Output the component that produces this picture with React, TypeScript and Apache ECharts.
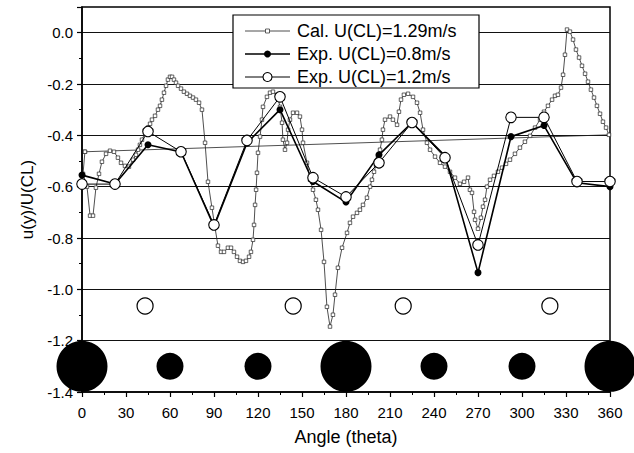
import React, { useEffect, useRef } from 'react';
import * as echarts from 'echarts';

const FONT = '"Liberation Sans", Arial, sans-serif';

// Calculated profile, U(CL)=1.29 m/s  [angle, u/U]
const calPoints: number[][] = [
  [2.0,-0.464],[0.7,-0.550],[3.4,-0.600],[5.5,-0.713],[7.5,-0.713],[9.5,-0.604],[11.6,-0.550],[13.6,-0.503],[16.4,-0.472],[19.1,-0.460],[21.8,-0.464],[24.5,-0.487],[26.6,-0.507],[29.3,-0.519],[32.0,-0.522],
  [34.8,-0.495],[36.8,-0.476],[38.2,-0.456],[39.5,-0.437],[40.9,-0.417],[43.0,-0.390],[45.0,-0.370],[46.4,-0.355],[47.7,-0.339],[49.8,-0.324],[51.8,-0.300],[53.2,-0.285],[54.5,-0.261],[55.9,-0.234],[57.3,-0.207],[58.6,-0.183],[60.0,-0.172],[61.4,-0.172],[62.7,-0.183],
  [64.1,-0.195],[65.5,-0.207],[67.5,-0.218],[69.5,-0.230],[71.6,-0.238],[73.6,-0.246],[75.7,-0.253],[77.7,-0.261],[79.8,-0.273],[81.8,-0.300],
  [83.9,-0.429],[85.9,-0.581],[88.6,-0.682],[90.7,-0.760],[92.7,-0.830],[94.8,-0.854],[96.8,-0.854],[99.5,-0.838],[101.6,-0.838],[103.6,-0.854],[105.7,-0.873],[107.7,-0.889],[109.8,-0.893],[111.8,-0.889],[113.9,-0.873],[115.2,-0.854],[116.6,-0.807],[117.3,-0.749],[118.0,-0.671],[118.7,-0.612],[119.3,-0.546],[120.0,-0.468],[121.4,-0.405],[122.7,-0.339],[123.4,-0.289],[126.1,-0.250],[128.2,-0.234],[130.2,-0.230],[133.0,-0.242],[135.0,-0.289],[136.4,-0.351],[137.0,-0.417],[138.4,-0.456],[139.8,-0.429],[140.5,-0.378],[141.8,-0.339],[143.9,-0.312],[146.6,-0.312],[148.6,-0.327],[150.0,-0.378],[150.7,-0.429],[153.4,-0.507],[155.5,-0.573],[157.5,-0.612],[159.5,-0.651],[160.9,-0.690],[163.0,-0.768],[165.0,-0.893],[167.0,-1.068],[169.1,-1.145],[171.1,-1.099],[172.5,-1.021],[174.5,-0.916],[177.3,-0.838],[180.7,-0.780],[182.7,-0.741],[184.8,-0.717],[187.5,-0.702],[189.5,-0.690],[191.6,-0.671],[194.3,-0.643],[196.4,-0.600],[197.7,-0.573],[199.1,-0.542],[200.5,-0.515],[201.8,-0.483],[203.2,-0.456],[204.5,-0.417],[205.2,-0.378],[206.6,-0.339],[210.0,-0.327],[212.0,-0.339],[214.8,-0.359],[216.1,-0.308],[217.5,-0.261],[219.5,-0.242],[222.3,-0.238],[225.7,-0.250],[228.4,-0.273],[230.5,-0.312],[232.5,-0.378],[235.2,-0.429],[237.3,-0.456],[240.7,-0.483],[244.1,-0.507],[247.5,-0.522],[250.9,-0.542],[254.3,-0.565],[257.7,-0.589],[260.5,-0.581],[263.2,-0.565],[264.5,-0.612],[265.9,-0.624],[267.3,-0.698],[268.0,-0.729],[270.0,-0.764],[272.0,-0.721],[273.4,-0.678],[274.8,-0.651],[276.1,-0.600],[278.2,-0.573],[280.9,-0.558],[283.6,-0.542],[286.4,-0.526],[289.1,-0.511],[291.8,-0.495],[295.2,-0.472],[298.6,-0.448],[302.0,-0.425],[305.5,-0.402],[308.9,-0.370],[312.3,-0.339],[315.0,-0.308],[317.7,-0.285],[320.5,-0.261],[322.5,-0.246],[324.5,-0.242],[326.6,-0.214],[328.0,-0.164],[329.3,-0.086],[330.7,0.012],[332.7,0.004],[334.8,-0.027],[336.8,-0.066],[338.9,-0.097],[340.9,-0.129],[343.0,-0.160],[345.0,-0.191],[347.0,-0.222],[349.1,-0.253],[351.1,-0.285],[353.2,-0.316],[355.2,-0.347],[357.3,-0.370],[359.3,-0.398],
  [2.0,-0.464],
];

// Experimental profiles
const expAngles = [0, 22.5, 45, 67.5, 90, 112.5, 135, 157.5, 180, 202.5, 225, 247.5, 270, 292.5, 315, 337.5, 360];
const exp08Values = [-0.555, -0.59, -0.437, -0.465, -0.755, -0.43, -0.30, -0.58, -0.66, -0.476, -0.35, -0.48, -0.935, -0.405, -0.362, -0.585, -0.60];
const exp12Values = [-0.59, -0.59, -0.385, -0.464, -0.749, -0.42, -0.25, -0.565, -0.64, -0.507, -0.35, -0.487, -0.827, -0.33, -0.33, -0.58, -0.58];

// Cylinder schematic
const bigCylAngles = [0, 180, 360];
const midCylAngles = [60, 120, 240, 300];
const cylRowValue = -1.3;
const openCylAngles = [43, 144, 219, 319];
const openCylValue = -1.065;

const legendLabels = ['Cal. U(CL)=1.29m/s', 'Exp. U(CL)=0.8m/s', 'Exp. U(CL)=1.2m/s'];

export default function App() {
  const ref = useRef<HTMLDivElement>(null);
  useEffect(() => {
    if (!ref.current) return;
    const chart = echarts.init(ref.current, null, { renderer: 'svg' });
    const zip = (xs: number[], ys: number[]) => xs.map((x, i) => [x, ys[i]]);
    const lx0 = 245, lx1 = 290, lxm = 267.5;
    const rows = [31, 54, 77];
    chart.setOption({
      animation: false,
      backgroundColor: '#fff',
      grid: { left: 82, top: 7, width: 528, height: 385, show: true, borderColor: '#000', borderWidth: 1.5, backgroundColor: 'transparent' },
      xAxis: {
        type: 'value', min: 0, max: 360, interval: 30,
        name: 'Angle (theta)', nameLocation: 'middle', nameGap: 36,
        nameTextStyle: { fontSize: 18, color: '#000', fontFamily: FONT },
        axisLine: { show: true, onZero: false, lineStyle: { color: '#000', width: 1.5 } },
        axisTick: { show: true, inside: false, length: 5, lineStyle: { color: '#000', width: 1.2 } },
        minorTick: { show: true, splitNumber: 2, length: 3, lineStyle: { color: '#000', width: 1 } },
        axisLabel: { margin: 13, fontSize: 15, color: '#000', fontFamily: FONT },
        splitLine: { show: false },
      },
      yAxis: {
        type: 'value', min: -1.4, max: 0.1, interval: 0.2,
        name: 'u(y)/U(CL)', nameLocation: 'middle', nameGap: 46,
        nameTextStyle: { fontSize: 17, color: '#000', fontFamily: FONT },
        axisLine: { show: true, onZero: false, lineStyle: { color: '#000', width: 1.5 } },
        axisTick: { show: true, inside: false, length: 5, lineStyle: { color: '#000', width: 1.2 } },
        minorTick: { show: true, splitNumber: 2, length: 3, lineStyle: { color: '#000', width: 1 } },
        axisLabel: { margin: 9, fontSize: 15, color: '#000', fontFamily: FONT, showMaxLabel: false,
          formatter: (v: number) => (Math.abs(v) < 1e-9 ? '0.0' : v.toFixed(1)) },
        splitLine: { show: true, showMinLine: false, showMaxLine: false, lineStyle: { color: '#111', width: 1 } },
      },
      series: [
        {
          type: 'line', name: legendLabels[0], data: calPoints, z: 3,
          symbol: 'rect', symbolSize: 3.5, showAllSymbol: true,
          lineStyle: { color: '#222', width: 0.8 },
          itemStyle: { color: '#fff', borderColor: '#222', borderWidth: 0.7 },
        },
        {
          type: 'line', name: legendLabels[1], data: zip(expAngles, exp08Values), z: 4,
          symbol: 'circle', symbolSize: 7,
          lineStyle: { color: '#000', width: 1.6 },
          itemStyle: { color: '#000', borderColor: '#000', borderWidth: 0 },
        },
        {
          type: 'line', name: legendLabels[2], data: zip(expAngles, exp12Values), z: 5,
          symbol: 'circle', symbolSize: 10.5,
          lineStyle: { color: '#000', width: 1 },
          itemStyle: { color: '#fff', borderColor: '#000', borderWidth: 1.1 },
        },
        {
          type: 'scatter', data: bigCylAngles.map((a) => [a, cylRowValue]), symbolSize: 51, clip: false, z: 6,
          itemStyle: { color: '#000', opacity: 1 },
        },
        {
          type: 'scatter', data: midCylAngles.map((a) => [a, cylRowValue]), symbolSize: 27, clip: false, z: 6,
          itemStyle: { color: '#000', opacity: 1 },
        },
        {
          type: 'scatter', data: openCylAngles.map((a) => [a, openCylValue]), symbolSize: 16, clip: false, z: 6,
          itemStyle: { color: '#fff', borderColor: '#000', borderWidth: 1.2, opacity: 1 },
        },
      ],
      graphic: [
        { type: 'rect', z: 100, shape: { x: 233, y: 15, width: 246, height: 73 }, style: { fill: '#fff', stroke: '#000', lineWidth: 1.2 } },
        { type: 'line', z: 101, shape: { x1: lx0, y1: rows[0], x2: lx1, y2: rows[0] }, style: { stroke: '#222', lineWidth: 0.8 } },
        { type: 'rect', z: 102, shape: { x: lxm - 2, y: rows[0] - 2, width: 4, height: 4 }, style: { fill: '#fff', stroke: '#222', lineWidth: 0.7 } },
        { type: 'line', z: 101, shape: { x1: lx0, y1: rows[1], x2: lx1, y2: rows[1] }, style: { stroke: '#000', lineWidth: 1.6 } },
        { type: 'circle', z: 102, shape: { cx: lxm, cy: rows[1], r: 3.5 }, style: { fill: '#000' } },
        { type: 'line', z: 101, shape: { x1: lx0, y1: rows[2], x2: lx1, y2: rows[2] }, style: { stroke: '#000', lineWidth: 1 } },
        { type: 'circle', z: 102, shape: { cx: lxm, cy: rows[2], r: 4.5 }, style: { fill: '#fff', stroke: '#000', lineWidth: 1.1 } },
        ...legendLabels.map((t, i) => ({
          type: 'text', z: 102, x: 297, y: rows[i],
          style: { text: t, fontSize: 18, fontFamily: FONT, fill: '#000', verticalAlign: 'middle', align: 'left' },
        })),
      ],
    });
    return () => chart.dispose();
  }, []);
  return <div ref={ref} style={{ position: 'fixed', left: 0, top: 0, width: 634, height: 453, background: '#fff' }} />;
}
